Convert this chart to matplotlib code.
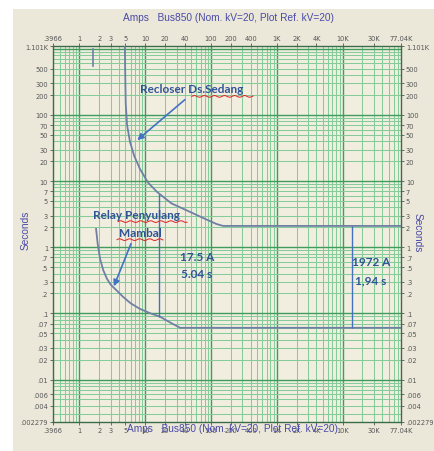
import numpy as np
import matplotlib
matplotlib.use("Agg")
import matplotlib.pyplot as plt

# x axis (Amps) tick labels
x_ticks = [0.3966, 1, 2, 3, 5, 10, 20, 40, 100, 200, 400, 1000, 2000, 4000, 10000, 30000, 77040]
x_labels = [".3966", "1", "2", "3", "5", "10", "20", "40", "100", "200", "400",
            "1K", "2K", "4K", "10K", "30K", "77.04K"]
# y axis (Seconds) tick labels
y_ticks = [1101, 500, 300, 200, 100, 70, 50, 30, 20, 10, 7, 5, 3, 2, 1, .7, .5, .3, .2,
           .1, .07, .05, .03, .02, .01, .006, .004, .002279]
y_labels = ["1.101K", "500", "300", "200", "100", "70", "50", "30", "20", "10", "7", "5",
            "3", "2", "1", ".7", ".5", ".3", ".2", ".1", ".07", ".05", ".03", ".02",
            ".01", ".006", ".004", ".002279"]

# recloser Ds.Sedang curve
recloser_amps = [4.9, 4.95, 5.05, 5.3, 5.87, 6.8, 8.3, 11, 15.1, 25, 47.9, 80, 120, 152, 77040]
recloser_secs = [1101, 500, 150, 70, 39, 24, 15.3, 9.5, 6.86, 4.6, 3.42, 2.7, 2.25, 2.1, 2.1]

# relay Penyulang Mambal curve
relay_amps = [1.79, 1.9, 2.06, 2.3, 2.62, 3.0, 3.47, 4.6, 6.0, 8.3, 12, 16.8, 25, 34, 77040]
relay_secs = [1.89, 1.1, 0.667, 0.45, 0.333, 0.27, 0.235, 0.178, 0.142, 0.117, 0.1,
              0.089, 0.071, 0.0605, 0.0605]

# vertical margin lines
margin_amps = [16, 13900]
margin_low = [0.088, 0.0605]
margin_high = [6.3, 2.1]

# short mark near top
mark_amps = [1.6, 1.6]
mark_secs = [550, 990]

bg = "#f1eee0"
fig = plt.figure(figsize=(4.34, 4.52), dpi=100, facecolor="white")
fig.patches.append(plt.Rectangle((13 / 434, 0), 1, 1 - 10 / 452, transform=fig.transFigure,
                                 facecolor="#ebe8da", edgecolor="none", zorder=-5))
ax = fig.add_axes([53 / 434, 1 - 423 / 452, 348 / 434, 376 / 452])
ax.set_facecolor(bg)
ax.set_xscale("log")
ax.set_yscale("log")
ax.set_xlim(0.3966, 77040)
ax.set_ylim(0.002279, 1101)

# grid
for d in range(-1, 5):
    for s in range(1, 10):
        v = s * 10.0 ** d
        if 0.3966 < v < 77040:
            ax.axvline(v, color="#3f9c5c" if s == 1 else "#86cc9b",
                       lw=1.0 if s == 1 else 0.75, zorder=0)
for d in range(-3, 4):
    for s in range(1, 10):
        v = s * 10.0 ** d
        if 0.002279 < v < 1101:
            ax.axhline(v, color="#3f9c5c" if s == 1 else "#86cc9b",
                       lw=1.0 if s == 1 else 0.75, zorder=0)

curve_c = "#7080a4"
ax.plot(recloser_amps, recloser_secs, color=curve_c, lw=1.3, zorder=3)
ax.plot(relay_amps, relay_secs, color=curve_c, lw=1.3, zorder=3)
ax.vlines(margin_amps, margin_low, margin_high, color="#4470c0", lw=1.0, zorder=3)
ax.plot(mark_amps, mark_secs, color="#7080a4", lw=1.2, zorder=3)

# ticks
ax.set_xticks(x_ticks)
ax.set_xticklabels(x_labels)
ax.set_yticks(y_ticks)
ax.set_yticklabels(y_labels)
ax.minorticks_off()
ax.tick_params(axis="both", which="major", labelsize=4.8, colors="#555555", length=2,
               width=0.6, pad=1.5, top=True, right=True, labeltop=True, labelright=True)
for sp in ax.spines.values():
    sp.set_color("#3b6b48")
    sp.set_linewidth(1.0)

lab_c = "#4a4aa8"
fig.text(228 / 434, 1 - 18 / 452, "Amps   Bus850 (Nom. kV=20, Plot Ref. kV=20)",
         ha="center", va="center", fontsize=7.3, color=lab_c, family="Liberation Sans")
fig.text(232 / 434, 1 - 429 / 452, "Amps   Bus850 (Nom. kV=20, Plot Ref. kV=20)",
         ha="center", va="center", fontsize=7.3, color=lab_c, family="Liberation Sans")
fig.text(26 / 434, 1 - 230 / 452, "Seconds", rotation=90, ha="center", va="center",
         fontsize=7.3, color=lab_c, family="Liberation Sans")
fig.text(418 / 434, 1 - 233 / 452, "Seconds", rotation=-90, ha="center", va="center",
         fontsize=7.3, color=lab_c, family="Liberation Sans")

# annotations
txt_c = "#2f5496"
arr_c = "#4472c4"
fkw = dict(fontsize=8.5, fontweight="bold", color=txt_c, family="Lato",
           transform=ax.transAxes, zorder=5)
ax.text(0.25, 0.886, "Recloser Ds.Sedang", ha="left", va="center", **fkw)
ax.text(0.115, 0.553, "Relay Penyulang", ha="left", va="center", **fkw)
ax.text(0.25, 0.505, "Mambal", ha="center", va="center", **fkw)
ax.text(0.414, 0.441, "17.5 A", ha="center", va="center", **fkw)
ax.text(0.414, 0.394, "5.04 s", ha="center", va="center", **fkw)
ax.text(0.914, 0.426, "1972 A", ha="center", va="center", **fkw)
ax.text(0.914, 0.378, "1,94 s", ha="center", va="center", **fkw)

for tail, tip in [((0.385, 0.862), (0.236, 0.745)), ((0.227, 0.481), (0.172, 0.354))]:
    ax.annotate("", xy=tip, xytext=tail, xycoords="axes fraction",
                arrowprops=dict(arrowstyle="-|>", color=arr_c, lw=1.2,
                                mutation_scale=9), zorder=5)

# red spell-check squiggles
for x0, x1, y in [(0.399, 0.575, 0.866), (0.187, 0.385, 0.533), (0.184, 0.316, 0.485)]:
    xs = np.linspace(x0, x1, 60)
    ys = y + 0.0022 * np.sin(np.linspace(0, (x1 - x0) * 348 / 1.6, 60))
    ax.plot(xs, ys, color="#e02020", lw=0.7, transform=ax.transAxes, zorder=5)

fig.savefig("out.png", dpi=100, facecolor=fig.get_facecolor())
